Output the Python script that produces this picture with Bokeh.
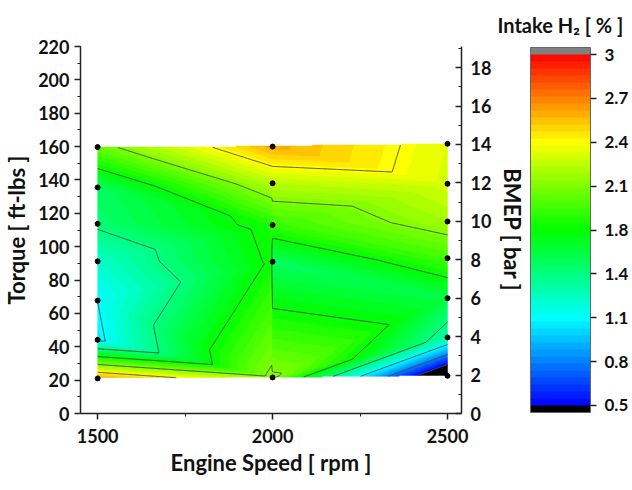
import numpy as np
from bokeh.plotting import figure
from bokeh.models import (Range1d, LinearAxis, SingleIntervalTicker, FixedTicker,
                          ColorBar, LinearColorMapper)
from bokeh.embed import file_html
from bokeh.resources import INLINE

# ---------------- data ----------------
speed_1500 = 1500
torque_1500 = [21.0, 44.2, 67.7, 91.2, 113.7, 135.5, 159.7]
h2_1500 = [2.62, 1.08, 1.127, 1.25, 1.47, 1.53, 2.00]

speed_2000 = 2000
torque_2000 = [21.6, 91.0, 113.0, 138.0, 160.0]
h2_2000_low_sweep = [2.10, 1.78, 1.82, 2.20, 2.58]    # used for the 1500-2000 side
h2_2000_high_sweep = [2.09, 1.52, 1.88, 2.20, 2.58]   # used for the 2000-2500 side

speed_2500 = 2500
torque_2500 = [22.6, 45.6, 69.1, 93.1, 115.1, 137.7, 161.7]
h2_2500 = [0.15, 1.345, 1.58, 1.91, 2.15, 2.28, 2.30]

ftlb_per_bar = 11.52
cbar_ticks = [0.5, 0.8125, 1.125, 1.4375, 1.75, 2.0625, 2.375, 2.6875, 3.0]
cbar_labels = ["0.5", "0.8", "1.1", "1.4", "1.8", "2.1", "2.4", "2.7", "3"]
x_ticks = [1500, 2000, 2500]
x_minor = [1750, 2250]

FONT = "Lato"
TICK_FS = "18px"
LABEL_FS = "22px"


# ---------------- helpers ----------------
def strip_triangles(xl, tl, vl, xr, tr, vr):
    L = [(xl, t, v) for t, v in zip(tl, vl)]
    R = [(xr, t, v) for t, v in zip(tr, vr)]
    tris = []
    i = j = 0
    while i < len(L) - 1 or j < len(R) - 1:
        if j == len(R) - 1 or (i < len(L) - 1 and L[i + 1][1] <= R[j + 1][1]):
            tris.append((L[i], L[i + 1], R[j]))
            i += 1
        else:
            tris.append((L[i], R[j], R[j + 1]))
            j += 1
    return tris


def tri_interp(tris, X, Y):
    Z = np.full(X.shape, np.nan)
    for a, b, c in tris:
        (x1, y1, v1), (x2, y2, v2), (x3, y3, v3) = a, b, c
        det = (y2 - y3) * (x1 - x3) + (x3 - x2) * (y1 - y3)
        l1 = ((y2 - y3) * (X - x3) + (x3 - x2) * (Y - y3)) / det
        l2 = ((y3 - y1) * (X - x3) + (x1 - x3) * (Y - y3)) / det
        l3 = 1 - l1 - l2
        eps = -1e-7
        m = (l1 >= eps) & (l2 >= eps) & (l3 >= eps)
        Z[m] = (l1 * v1 + l2 * v2 + l3 * v3)[m]
    return Z


def rainbow(v):
    t = min(max((v - 0.5) / 2.5, 0.0), 1.0)
    stops = [(0.0, (0, 0, 255)), (0.25, (0, 255, 255)), (0.5, (0, 255, 0)),
             (0.75, (255, 255, 0)), (1.0, (255, 0, 0))]
    for (t0, c0), (t1, c1) in zip(stops[:-1], stops[1:]):
        if t <= t1:
            f = (t - t0) / (t1 - t0)
            rgb = [round(c0[k] + f * (c1[k] - c0[k])) for k in range(3)]
            return "#%02x%02x%02x" % tuple(rgb)
    return "#ff0000"


# ---------------- interpolation grid ----------------
left_tris = strip_triangles(speed_1500, torque_1500, h2_1500,
                            speed_2000, torque_2000, h2_2000_low_sweep)
right_tris = strip_triangles(speed_2000, torque_2000, h2_2000_high_sweep,
                             speed_2500, torque_2500, h2_2500)

xs = np.linspace(speed_1500, speed_2500, 401)
ys = np.linspace(min(torque_1500 + torque_2000 + torque_2500),
                 max(torque_1500 + torque_2000 + torque_2500), 320)
X, Y = np.meshgrid(xs, ys)
ZL = tri_interp(left_tris, X, Y)
ZR = tri_interp(right_tris, X, Y)
Z = np.where(X < speed_2000, ZL, ZR)

step = 0.05
band_edges = list(np.round(np.arange(0.5, 3.0 + 1e-9, step), 4))
fill_levels = [-5.0] + band_edges + [10.0]
band_colors = [rainbow(e + step / 2) for e in band_edges[:-1]]
fill_palette = ["#000000"] + band_colors + ["#808080"]

# ---------------- figure ----------------
p = figure(frame_width=381, frame_height=367,
           x_range=Range1d(1451, 2540), y_range=Range1d(0, 220),
           output_backend="svg", toolbar_location=None,
           min_border_left=72, min_border_top=45, min_border_right=0,
           min_border_bottom=0)
p.outline_line_color = None
p.xgrid.visible = False
p.ygrid.visible = False

img_mapper = LinearColorMapper(palette=fill_palette, low=0.45, high=3.05,
                               low_color="#000000", high_color="#808080",
                               nan_color=(0, 0, 0, 0))
p.image(image=[Z], x=xs[0], y=ys[0], dw=xs[-1] - xs[0], dh=ys[-1] - ys[0],
        color_mapper=img_mapper)
p.contour(xs, ys, Z, fill_levels, fill_color=fill_palette, line_color=None)
p.contour(xs, ys, Z, cbar_ticks, fill_color=None, line_color="#4a4a4a",
          line_width=1)

pts_x = [speed_1500] * len(torque_1500) + [speed_2000] * len(torque_2000) + \
        [speed_2500] * len(torque_2500)
pts_y = torque_1500 + torque_2000 + torque_2500
p.scatter(pts_x, pts_y, size=5, color="black")


def style_axis(ax):
    ax.axis_line_width = 1.5
    ax.axis_line_color = "#222222"
    ax.major_tick_line_color = "#222222"
    ax.minor_tick_line_color = "#222222"
    ax.major_tick_line_width = 1.5
    ax.major_label_text_font = FONT
    ax.major_label_text_font_style = "bold"
    ax.major_label_text_font_size = TICK_FS
    ax.major_label_text_color = "#111111"
    ax.axis_label_text_font = FONT
    ax.axis_label_text_font_style = "bold"
    ax.axis_label_text_font_size = LABEL_FS
    ax.axis_label_text_color = "#111111"


for ax in (p.xaxis[0], p.yaxis[0]):
    style_axis(ax)
    ax.major_tick_in = 0
    ax.minor_tick_in = 0
    ax.major_tick_out = 6
    ax.minor_tick_out = 3

p.xaxis.ticker = FixedTicker(ticks=x_ticks, minor_ticks=x_minor)
p.xaxis.axis_label = "Engine Speed [ rpm ]"
p.xaxis.major_label_standoff = 9
p.xaxis.axis_label_standoff = 3
p.yaxis.ticker = SingleIntervalTicker(interval=20, num_minor_ticks=2)
p.yaxis.axis_label = "Torque [ ft-lbs ]"
p.yaxis.major_label_standoff = 5
p.yaxis.axis_label_standoff = 5

p.extra_y_ranges = {"bmep": Range1d(0, 220 / ftlb_per_bar)}
rax = LinearAxis(y_range_name="bmep",
                 ticker=SingleIntervalTicker(interval=2, num_minor_ticks=2),
                 axis_label="BMEP [ bar ]")
style_axis(rax)
rax.major_tick_in = 6
rax.major_tick_out = 0
rax.minor_tick_in = 3
rax.minor_tick_out = 0
rax.major_label_standoff = 9
rax.axis_label_standoff = 5
p.add_layout(rax, "right")

cb = ColorBar(color_mapper=img_mapper, ticker=FixedTicker(ticks=cbar_ticks),
              major_label_overrides=dict(zip(cbar_ticks, cbar_labels)),
              width=60, height=365, padding=1, margin=1,
              label_standoff=8, major_tick_out=6, major_tick_in=0,
              major_tick_line_color="#222222", major_tick_line_width=1.5,
              minor_tick_line_color=None,
              bar_line_color="#666666", border_line_color=None,
              background_fill_color=None,
              major_label_text_font=FONT, major_label_text_font_style="bold",
              major_label_text_font_size="17px",
              major_label_text_color="#111111")
p.add_layout(cb, "right")

p.title.text = "Intake H\u2082 [ % ]"
p.title.align = "left"
p.title.offset = 417
p.title.standoff = 20
p.title.text_font = FONT
p.title.text_font_style = "bold"
p.title.text_font_size = "20px"
p.title.text_color = "#111111"

open("out.html", "w").write(file_html(p, INLINE))
